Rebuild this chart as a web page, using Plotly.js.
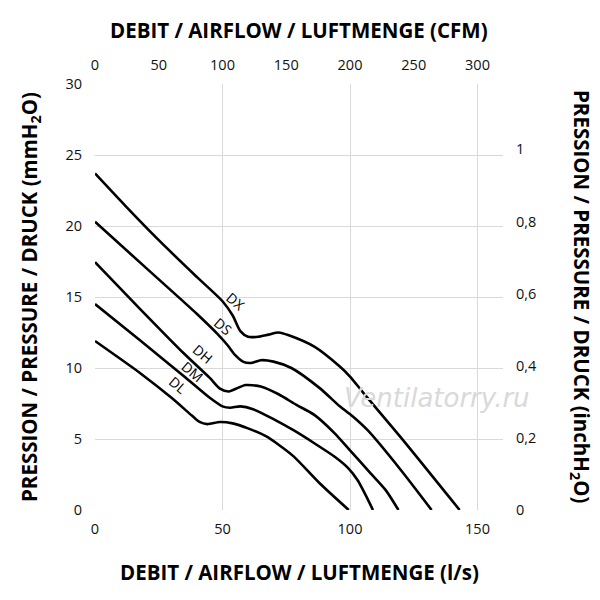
<!DOCTYPE html>
<html>
<head>
<meta charset="utf-8">
<script src="https://cdn.plot.ly/plotly-3.0.1.min.js"></script>
<style>html,body{margin:0;padding:0;background:#fff;}#chart{width:600px;height:600px;}</style>
</head>
<body>
<div id="chart"></div>
<script>
// Data (flow in l/s, pressure in mmH2O)
const seriesNames = ["DX", "DS", "DH", "DM", "DL"];
const dxFlow = [0, 12, 25, 40, 50, 54, 57, 60, 64, 68, 72, 76, 86, 96, 100, 105, 120, 143];
const dxPres = [23.7, 21.4, 19.0, 16.4, 14.7, 13.7, 12.6, 12.2, 12.2, 12.35, 12.5, 12.3, 11.5, 10.1, 9.4, 8.3, 5.1, 0];
const dsFlow = [0, 20, 40, 48, 52, 55, 58, 61, 65, 70, 77, 88, 96, 101, 107, 120, 132];
const dsPres = [20.3, 17.05, 13.8, 12.4, 11.6, 10.9, 10.45, 10.35, 10.55, 10.45, 10.0, 8.6, 7.3, 6.6, 5.6, 2.8, 0];
const dhFlow = [0, 18, 35, 45, 49, 52.5, 56, 59, 65, 72, 79, 86, 94, 100, 108, 114, 119];
const dhPres = [17.45, 14.1, 11.0, 9.3, 8.55, 8.35, 8.6, 8.8, 8.7, 8.15, 7.4, 6.7, 5.4, 4.2, 2.6, 1.4, 0];
const dmFlow = [0, 18, 35, 45, 50, 53, 57, 62, 70, 78, 86, 94, 99, 103, 106, 109];
const dmPres = [14.5, 11.9, 9.4, 7.9, 7.3, 7.2, 7.3, 7.1, 6.4, 5.6, 4.7, 3.75, 3.0, 2.1, 1.1, 0];
const dlFlow = [0, 18, 30, 38, 41, 44, 49, 54, 60, 67, 72, 78, 88, 99.5];
const dlPres = [11.9, 9.6, 7.9, 6.65, 6.2, 6.05, 6.2, 6.1, 5.75, 5.2, 4.6, 3.76, 1.9, 0];

// Tick labels
const lsTicks = [0, 50, 100, 150];
const cfmTicks = [0, 50, 100, 150, 200, 250, 300];
const mmTicks = [0, 5, 10, 15, 20, 25, 30];
const inchTicks = [0, 0.2, 0.4, 0.6, 0.8, 1];
const inchTickText = ["0", "0,2", "0,4", "0,6", "0,8", "1"];

const flows = [dxFlow, dsFlow, dhFlow, dmFlow, dlFlow];
const press = [dxPres, dsPres, dhPres, dmPres, dlPres];

const traces = seriesNames.map((n, i) => ({
  type: "scatter", mode: "lines", name: n,
  x: flows[i], y: press[i], xaxis: "x", yaxis: "y",
  line: {color: "#000", width: 2.6, shape: "spline", smoothing: 0.7},
  hoverinfo: "skip"
}));

const tickFont = {family: "Open Sans, sans-serif", size: 14.5, color: "#111"};
const titleFont = {family: "Open Sans, sans-serif", size: 20.5, color: "#000", weight: 700};
const grid = "#d9d9d9";

const labelPos = [[53.7, 14.3], [48.8, 12.56], [40.6, 10.7], [36.6, 9.4], [30.7, 8.46]];
const annotations = seriesNames.map((n, i) => ({
  x: labelPos[i][0], y: labelPos[i][1], xref: "x", yref: "y",
  xshift: 4, yshift: 5,
  text: n, showarrow: false, textangle: 40,
  font: {family: "Open Sans, sans-serif", size: 14, color: "#000"}
}));
annotations.push(
  {xref: "paper", yref: "paper", x: 0.5, y: 1, yshift: 54, xanchor: "center", yanchor: "middle",
   text: "<b>DEBIT / AIRFLOW / LUFTMENGE (CFM)</b>", showarrow: false, font: titleFont},
  {xref: "paper", yref: "paper", x: 0.5, y: 0, yshift: -62, xanchor: "center", yanchor: "middle",
   text: "<b>DEBIT / AIRFLOW / LUFTMENGE (l/s)</b>", showarrow: false, font: titleFont},
  {xref: "paper", yref: "paper", x: 0, y: 0.5, xshift: -65, xanchor: "center", yanchor: "middle",
   text: "<b>PRESSION / PRESSURE / DRUCK (mmH<sub>2</sub>O)</b>", showarrow: false, textangle: -90, font: titleFont},
  {xref: "paper", yref: "paper", x: 1, y: 0.5, xshift: 78, xanchor: "center", yanchor: "middle",
   text: "<b>PRESSION / PRESSURE / DRUCK (inchH<sub>2</sub>O)</b>", showarrow: false, textangle: 90, font: titleFont},
  {xref: "paper", yref: "paper", x: 0.838, y: 0.263, xanchor: "center", yanchor: "middle",
   text: "<i>Ventilatorry.ru</i>", showarrow: false,
   font: {family: "DejaVu Sans, sans-serif", size: 26, color: "#d9d9d9"}}
);

const layout = {
  width: 600, height: 600,
  margin: {l: 95, r: 97, t: 84, b: 90, pad: 0},
  paper_bgcolor: "#fff", plot_bgcolor: "#fff",
  showlegend: false,
  xaxis: {range: [0, 160], tickvals: lsTicks, showgrid: true, gridcolor: grid, gridwidth: 1,
          zeroline: false, showline: false, ticks: "", tickfont: tickFont, ticklabelstandoff: 8,
          fixedrange: true},
  xaxis2: {range: [0, 320], tickvals: cfmTicks, overlaying: "x", side: "top", showgrid: false,
           zeroline: false, showline: false, ticks: "", tickfont: tickFont, ticklabelstandoff: 10,
           fixedrange: true},
  yaxis: {range: [0, 30], tickvals: mmTicks, showgrid: true, gridcolor: grid, gridwidth: 1,
          zeroline: false, showline: false, ticks: "", tickfont: tickFont, ticklabelstandoff: 12,
          fixedrange: true},
  yaxis2: {range: [0, 30 / 25.4], tickvals: inchTicks, ticktext: inchTickText, overlaying: "y", side: "right",
           showgrid: false, zeroline: false, showline: false, ticks: "", tickfont: tickFont,
           ticklabelstandoff: 12, fixedrange: true},
  annotations: annotations
};

traces.push({type: "scatter", mode: "none", x: [], y: [], xaxis: "x2", yaxis: "y2", hoverinfo: "skip", showlegend: false});

Plotly.newPlot("chart", traces, layout, {staticPlot: true, displayModeBar: false});
</script>
</body>
</html>
